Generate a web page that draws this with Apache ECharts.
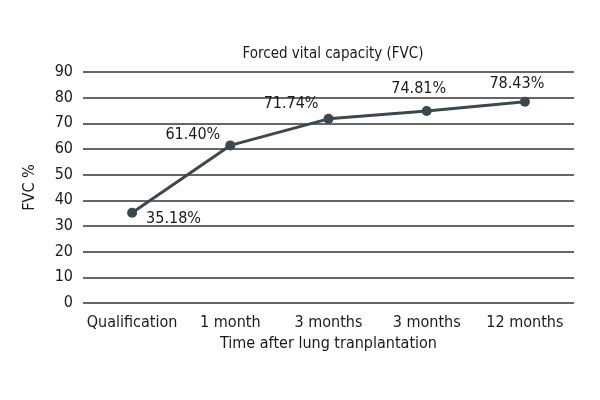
<!DOCTYPE html>
<html>
<head>
<meta charset="utf-8">
<script src="https://cdn.jsdelivr.net/npm/echarts@6/dist/echarts.min.js"></script>
<style>
  html, body { margin: 0; padding: 0; background: #fff; }
  #chart { width: 600px; height: 400px; }
</style>
</head>
<body>
<div id="chart"></div>
<script>
const categories = ['Qualification', '1 month', '3 months', '3 months', '12 months'];
const fvcValues = [35.18, 61.40, 71.74, 74.81, 78.43];
const yTicks = [0, 10, 20, 30, 40, 50, 60, 70, 80, 90];

// label placement per point, like in the picture
const labelPos = [
  { position: 'right', offset: [4, 6] },
  { position: 'left', offset: [0, -11] },
  { position: 'left', offset: [0, -15] },
  { position: 'top', offset: [-8, -4] },
  { position: 'top', offset: [-8, 0] }
];

const font = '"Liberation Sans Narrow", "DejaVu Sans Condensed", sans-serif';
const lineColor = '#3c4850';

const chart = echarts.init(document.getElementById('chart'));

chart.setOption({
  backgroundColor: '#fff',
  animation: false,
  title: {
    text: 'Forced vital capacity (FVC)',
    left: 328,
    textAlign: 'center',
    top: 42,
    textStyle: { fontFamily: font, fontSize: 15, fontWeight: 'normal', color: '#1a1a1a' }
  },
  grid: { left: 83, right: 26, top: 72, bottom: 97 },
  xAxis: {
    type: 'category',
    data: categories,
    name: 'Time after lung tranplantation',
    nameLocation: 'middle',
    nameGap: 32,
    nameTextStyle: { fontFamily: font, fontSize: 16, color: '#1a1a1a' },
    axisLine: { show: false },
    axisTick: { show: false },
    axisLabel: { interval: 0, fontFamily: font, fontSize: 16, color: '#1a1a1a', margin: 12 }
  },
  yAxis: {
    type: 'value',
    min: yTicks[0],
    max: yTicks[yTicks.length - 1],
    interval: 10,
    name: 'FVC %',
    nameLocation: 'middle',
    nameGap: 45,
    nameTextStyle: { fontFamily: font, fontSize: 16, color: '#1a1a1a' },
    axisLine: { show: false },
    axisTick: { show: false },
    axisLabel: { fontFamily: font, fontSize: 16, color: '#1a1a1a', margin: 10 },
    splitLine: { lineStyle: { color: '#333', width: 1.5 } }
  },
  series: [
    {
      type: 'line',
      data: fvcValues.map((v, i) => ({
        value: v,
        label: labelPos[i]
      })),
      symbol: 'circle',
      symbolSize: 10,
      lineStyle: { color: lineColor, width: 3 },
      itemStyle: { color: lineColor },
      label: {
        show: true,
        fontFamily: font,
        fontSize: 16,
        color: '#1a1a1a',
        formatter: p => p.value.toFixed(2) + '%'
      }
    }
  ]
});
</script>
</body>
</html>
